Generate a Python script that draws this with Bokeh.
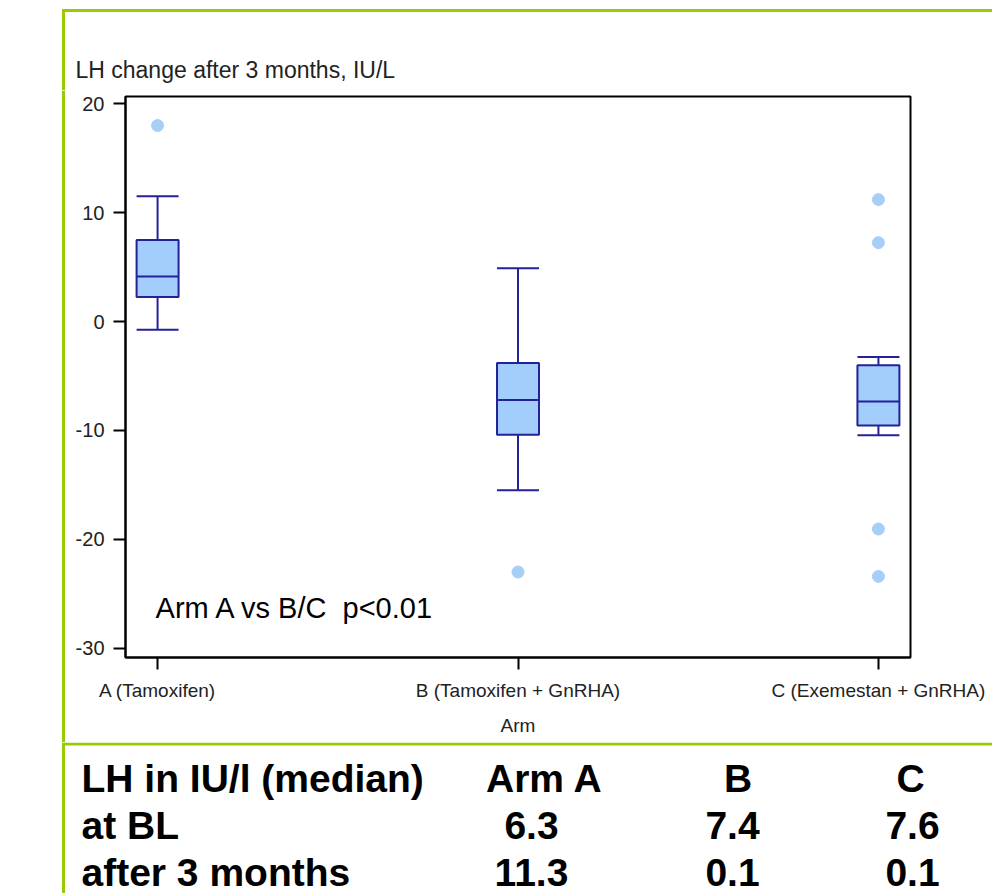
from bokeh.plotting import figure
from bokeh.models import Range1d, FixedTicker, Label
from bokeh.layouts import column, row
from bokeh.embed import file_html
from bokeh.resources import INLINE
from bokeh.core.properties import value

# ---------------- data ----------------
arms = ["A (Tamoxifen)", "B (Tamoxifen + GnRHA)", "C (Exemestan + GnRHA)"]
arm_pos = [1, 2, 3]
q1 = [2.25, -10.4, -9.55]
medians = [4.15, -7.2, -7.35]
q3 = [7.5, -3.8, -4.0]
whisker_low = [-0.75, -15.5, -10.45]
whisker_high = [11.5, 4.9, -3.25]
outlier_arm = [1, 2, 3, 3, 3, 3]
outlier_val = [18.0, -23.0, 11.2, 7.25, -19.05, -23.4]
y_ticks = [-30, -20, -10, 0, 10, 20]
y_title = "LH change after 3 months, IU/L"

table_title = "LH in IU/l (median)"
table_header = ["Arm A", "B", "C"]
row_labels = ["at BL", "after 3 months"]
lh_baseline = ["6.3", "7.4", "7.6"]
lh_3months = ["11.3", "0.1", "0.1"]

# ---------------- styles ----------------
W = 992
TOP_H, MID_H, BOT_H = 90, 652, 151
LEFT_W = 66
FONT = "Liberation Sans"
NAVY = "#22229a"
BOXFILL = "#a3cdfa"
OUTLIER = "#a6cff7"
GREEN = "#99cc00"
TXT = "#222222"
box_width = 0.1165


def strip(width, height):
    f = figure(width=width, height=height, output_backend="svg", toolbar_location=None,
               x_range=Range1d(0, width), y_range=Range1d(height, 0),
               x_axis_type=None, y_axis_type=None, min_border=0,
               background_fill_color="white", border_fill_color="white")
    f.grid.visible = False
    f.outline_line_color = None
    f.frame_align = False
    return f


# ---- top strip: green box top edge + y-axis title ----
top = strip(W, TOP_H)
top.segment(x0=[63, 63], y0=[10, 8.5], x1=[W + 5, 63], y1=[10, TOP_H],
            line_color=GREEN, line_width=3)
top.text(x=[75], y=[69], text=[y_title], text_font=value(FONT), text_font_size="23px",
         text_color=TXT, text_baseline="alphabetic", text_align="left")

# ---- left strip: green box left edge ----
left = strip(LEFT_W, MID_H)
left.segment(x0=[63], y0=[0], x1=[63], y1=[MID_H], line_color=GREEN, line_width=3)

# ---- chart ----
p = figure(width=W - LEFT_W, height=MID_H, output_backend="svg", toolbar_location=None,
           x_range=Range1d(0.911, 3.089), y_range=Range1d(-30.85, 20.67),
           min_border_left=59, min_border_right=82, min_border_top=6,
           min_border_bottom=85, background_fill_color="white",
           border_fill_color="white")
p.frame_align = False
p.xgrid.visible = False
p.ygrid.visible = False
p.outline_line_color = "black"
p.outline_line_width = 2

p.segment(x0=arm_pos, y0=q3, x1=arm_pos, y1=whisker_high, line_color=NAVY, line_width=2)
p.segment(x0=arm_pos, y0=q1, x1=arm_pos, y1=whisker_low, line_color=NAVY, line_width=2)
cap_l = [x - box_width / 2 for x in arm_pos]
cap_r = [x + box_width / 2 for x in arm_pos]
p.segment(x0=cap_l, y0=whisker_high, x1=cap_r, y1=whisker_high, line_color=NAVY, line_width=2)
p.segment(x0=cap_l, y0=whisker_low, x1=cap_r, y1=whisker_low, line_color=NAVY, line_width=2)
p.vbar(x=arm_pos, width=box_width, bottom=q1, top=q3, fill_color=BOXFILL,
       line_color=NAVY, line_width=2)
p.segment(x0=cap_l, y0=medians, x1=cap_r, y1=medians, line_color=NAVY, line_width=2)
p.scatter(x=outlier_arm, y=outlier_val, size=12, color=OUTLIER)

for ax in (p.xaxis[0], p.yaxis[0]):
    ax.axis_line_color = "black"
    ax.axis_line_width = 2
    ax.major_tick_line_color = "black"
    ax.major_tick_line_width = 2
    ax.major_tick_in = 0
    ax.major_tick_out = 12
    ax.minor_tick_line_color = None
    ax.major_label_text_font = FONT
    ax.major_label_text_color = TXT

p.yaxis.ticker = FixedTicker(ticks=y_ticks)
p.yaxis.major_label_overrides = {t: str(t) for t in y_ticks}
p.yaxis.major_label_text_font_size = "20px"
p.yaxis.major_label_standoff = 9
p.xaxis.ticker = FixedTicker(ticks=arm_pos)
p.xaxis.major_label_overrides = {x: a for x, a in zip(arm_pos, arms)}
p.xaxis.major_label_text_font_size = "19px"
p.xaxis.major_label_standoff = 10
p.xaxis.axis_label = "Arm"
p.xaxis.axis_label_text_font = FONT
p.xaxis.axis_label_text_font_style = "normal"
p.xaxis.axis_label_text_font_size = "19px"
p.xaxis.axis_label_text_color = TXT
p.xaxis.axis_label_standoff = 11

p.add_layout(Label(x=0.9945, y=-26.35, text="Arm A vs B/C\u00a0 p<0.01", text_font=FONT,
                   text_font_size="29px", text_color="black", text_baseline="alphabetic"))

# ---- table below ----
t = strip(W, BOT_H)
t.segment(x0=[63, 63], y0=[1.5, 0], x1=[W + 5, 63], y1=[1.5, BOT_H],
          line_color=GREEN, line_width=3)
row_base = [36, 83, 130]
header_x = [544, 737.5, 910]
value_x = [531, 732, 912]
tstyle = dict(text_font=value(FONT), text_font_style="bold", text_font_size="39px",
              text_color="black", text_baseline="alphabetic")
t.text(x=[81, 81, 81], y=row_base, text=[table_title] + row_labels, text_align="left", **tstyle)
t.text(x=header_x, y=[row_base[0]] * 3, text=table_header, text_align="center", **tstyle)
t.text(x=value_x, y=[row_base[1]] * 3, text=lh_baseline, text_align="center", **tstyle)
t.text(x=value_x, y=[row_base[2]] * 3, text=lh_3months, text_align="center", **tstyle)

layout = column(top, row(left, p, spacing=0), t, spacing=0)
open("out.html", "w").write(file_html(layout, INLINE))
